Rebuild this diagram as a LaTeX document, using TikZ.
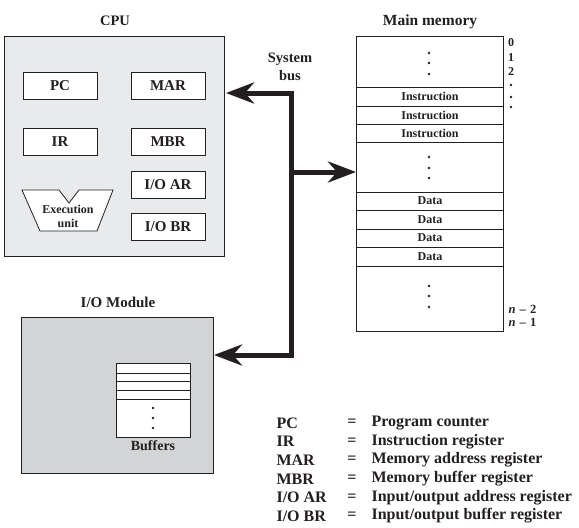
\documentclass[tikz,border=0pt]{standalone}
\usepackage{fontspec}
\setmainfont{Liberation Serif}
\usetikzlibrary{arrows.meta}
\definecolor{ink}{HTML}{231F20}
\definecolor{cpufill}{HTML}{E9EAEC}
\definecolor{iofill}{HTML}{D3D4D6}
\tikzset{
  every node/.style={text=ink, font=\bfseries},
  box/.style={draw=ink, line width=0.8pt, inner sep=0pt, outer sep=0pt, anchor=north west},
  reg/.style={box, fill=white, minimum width=74pt, minimum height=27pt, font=\bfseries\fontsize{15}{17}\selectfont},
  lbl/.style={font=\bfseries\fontsize{14.5}{17}\selectfont},
  cell/.style={font=\bfseries\fontsize{12}{14}\selectfont},
  dotn/.style={circle, fill=ink, inner sep=0pt, minimum size=2.6pt},
  leg/.style={anchor=west, font=\bfseries\fontsize{16}{18}\selectfont},
  busline/.style={draw=ink, line width=5pt, line join=miter, >={Stealth[length=28pt, width=21pt, inset=9pt]}},
}
\begin{document}
\begin{tikzpicture}[x=1pt, y=-1pt]
\useasboundingbox (0,0) rectangle (579,528);

% CPU
\node[lbl] (cpulbl) at (115,21) {CPU};
\node[box, fill=cpufill, minimum width=220pt, minimum height=220pt] (cpu) at (4,36) {};
\node[reg] (pc) at (23,72) {PC};
\node[reg] (mar) at (131,72) {MAR};
\node[reg] (ir) at (23,128) {IR};
\node[reg] (mbr) at (131,128) {MBR};
\node[reg] (ioar) at (131,171) {I/O AR};
\node[reg] (iobr) at (131,213) {I/O BR};
\draw[draw=ink, line width=0.8pt, fill=white] (22,190) -- (59,190) -- (69,203) -- (79,190) -- (113,190) -- (97,231) -- (40,231) -- cycle;
\node[cell, align=center, font=\bfseries\fontsize{12}{14}\selectfont] (eu) at (68,216) {Execution\\unit};

% Main memory
\node[lbl, font=\bfseries\fontsize{15.5}{17}\selectfont] (memlbl) at (430,22) {Main memory};
\node[box, fill=white, minimum width=147pt, minimum height=295pt] (mem) at (356,36) {};
\foreach \yy in {87,106,124,142,192,210,229,247,266}
  \draw[ink, line width=0.8pt] (mem.west |- 0,\yy) -- (mem.east |- 0,\yy);
\node[cell] (i1) at (430,96.5) {Instruction};
\node[cell] (i2) at (430,115) {Instruction};
\node[cell] (i3) at (430,133) {Instruction};
\node[cell] (dt1) at (430,201) {Data};
\node[cell] (dt2) at (430,219.5) {Data};
\node[cell] (dt3) at (430,238) {Data};
\node[cell] (dt4) at (430,256.5) {Data};
\foreach \yy [count=\k] in {53,63,74,157,168,178,286,296,307}
  \node[dotn] (md\k) at (429,\yy) {};
\node[cell] (a0) at (511,43) {0};
\node[cell] (a1) at (511,58) {1};
\node[cell] (a2) at (511,72) {2};
\node[dotn] (ad1) at (511,85) {};
\node[dotn] (ad2) at (511,97) {};
\node[dotn] (ad3) at (511,107) {};
\node[cell, anchor=west, font=\bfseries\fontsize{12.5}{14}\selectfont] (an2) at (505,309) {\textit{n}\,\,–\,\,2};
\node[cell, anchor=west, font=\bfseries\fontsize{12.5}{14}\selectfont] (an1) at (505,322) {\textit{n}\,\,–\,\,1};

% I/O module
\node[lbl, font=\bfseries\fontsize{15}{17}\selectfont] (iolbl) at (118,302) {I/O Module};
\node[box, fill=iofill, minimum width=192pt, minimum height=156pt] (io) at (21,317) {};
\node[box, fill=white, minimum width=74pt, minimum height=74pt] (buf) at (116,363) {};
\foreach \yy in {373,381,390,399}
  \draw[ink, line width=0.8pt] (buf.west |- 0,\yy) -- (buf.east |- 0,\yy);
\node[dotn] (bd1) at (153,408) {};
\node[dotn] (bd2) at (153,418) {};
\node[dotn] (bd3) at (153,428) {};
\node[lbl, font=\bfseries\fontsize{14}{16}\selectfont] (buflbl) at (153,446) {Buffers};

% System bus
\node[lbl, align=center, font=\bfseries\fontsize{14.5}{17.5}\selectfont] (buslbl) at (290,67) {System\\bus};
\coordinate (jt) at (291,93);
\coordinate (jm) at (291,172);
\coordinate (jb) at (291,355);
\draw[busline, <->] ([xshift=2pt]cpu.east |- jt) -- (jt) -- (jb) -- ([xshift=1pt]io.east |- jb);
\draw[busline, ->] (jm) -- (mem.west |- jm);

% Legend
\foreach \ab/\de [count=\k] in {{PC}/{Program counter}, {IR}/{Instruction register}, {MAR}/{Memory address register}, {MBR}/{Memory buffer register}, {I/O AR}/{Input/output address register}, {I/O BR}/{Input/output buffer register}}{
  \pgfmathsetmacro{\yy}{423+(\k-1)*18.6}
  \node[leg] (lab\k) at (273,\yy) {\ab};
  \node[leg, anchor=center] (leq\k) at (352,\yy) {=};
  \node[leg] (lde\k) at (368,\yy) {\de};
}
\end{tikzpicture}
\end{document}
